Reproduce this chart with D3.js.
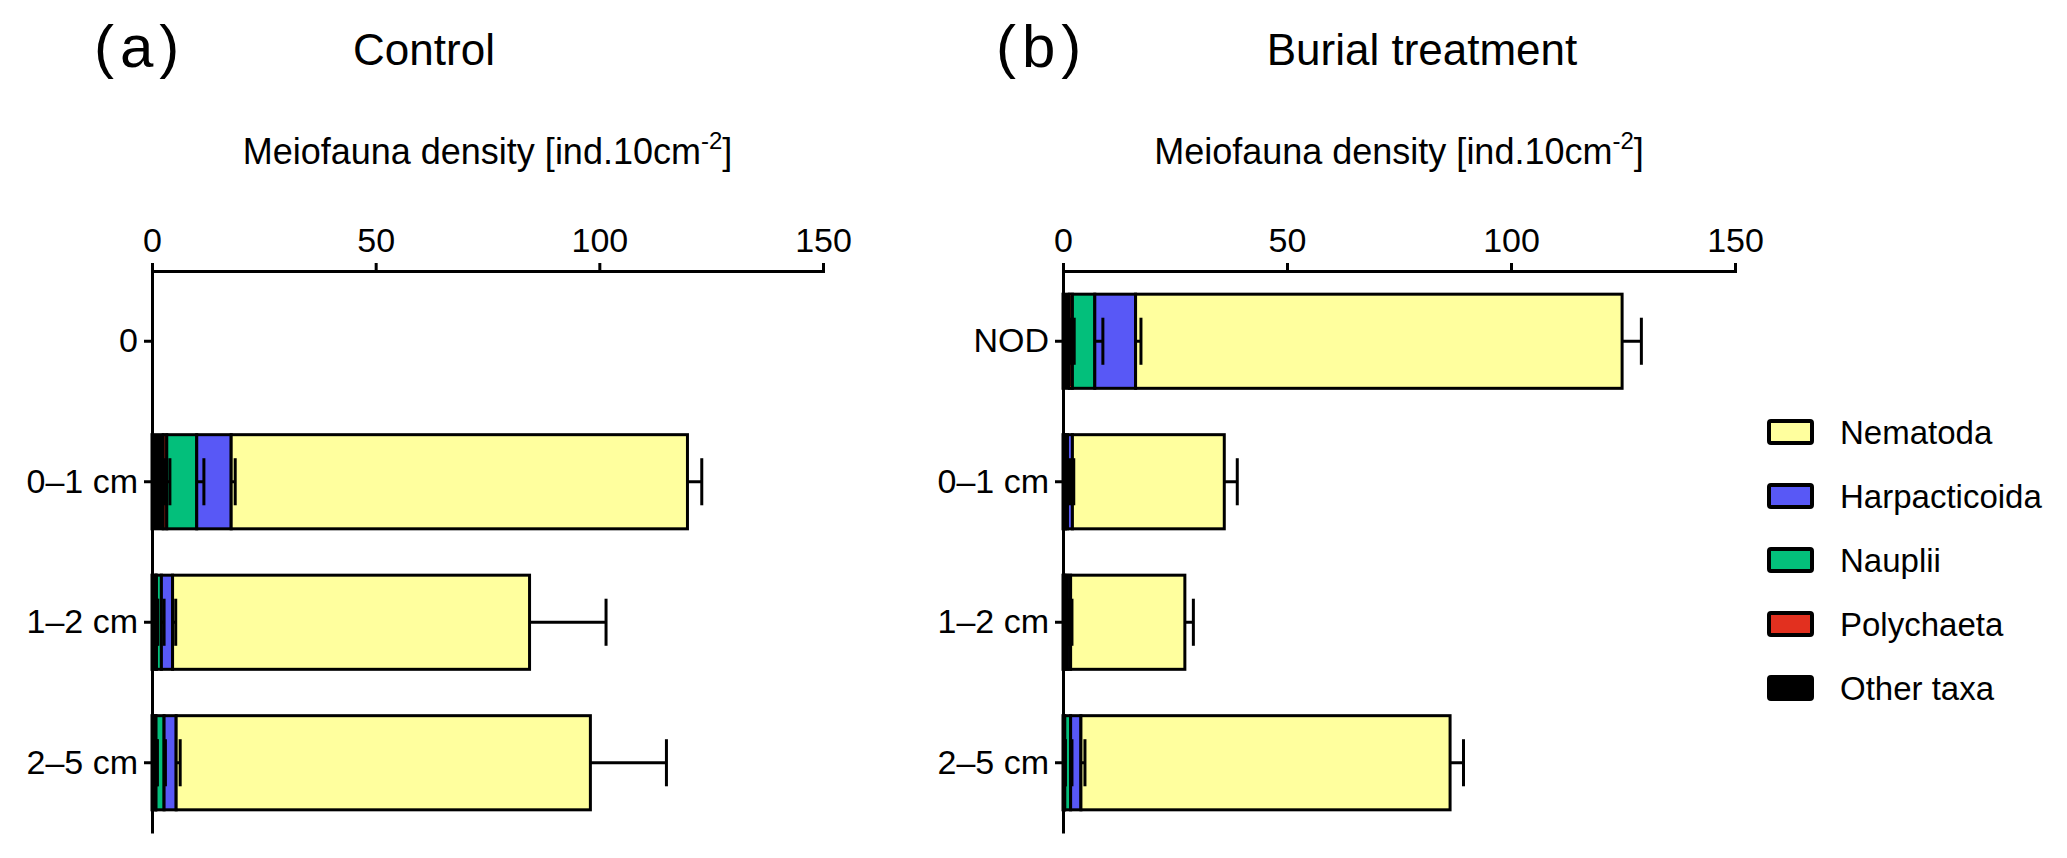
<!DOCTYPE html>
<html>
<head>
<meta charset="utf-8">
<script src="https://cdnjs.cloudflare.com/ajax/libs/d3/7.8.5/d3.min.js"></script>
<style>
  body { margin: 0; background: #fff; }
  text { font-family: "Liberation Sans", Arial, sans-serif; fill: #000; }
</style>
</head>
<body>
<div id="chart"></div>
<script>
// taxa, bottom of stack first
var taxa = ["Other taxa", "Polychaeta", "Nauplii", "Harpacticoida", "Nematoda"];
var taxaColors = ["#000000", "#e2301f", "#03bf7b", "#5858f6", "#ffff9e"];
var legendOrder = ["Nematoda", "Harpacticoida", "Nauplii", "Polychaeta", "Other taxa"];
var xTicks = [0, 50, 100, 150];

// (a) Control
var catsA = ["0", "0\u20131 cm", "1\u20132 cm", "2\u20135 cm"];
var otherA = [null, 2.5, 0.8, 0.8];
var polyA  = [null, 0.8, 0.2, 0.1];
var naupA  = [null, 6.7, 1.1, 1.8];
var harpA  = [null, 7.7, 2.5, 2.7];
var nemaA  = [null, 102.0, 79.8, 92.6];
var otherErrA = [null, 0.4, 0.3, 0.3];
var polyErrA  = [null, 0.7, 0.3, 0.3];
var naupErrA  = [null, 1.6, 0.6, 0.3];
var harpErrA  = [null, 0.9, 0.7, 0.9];
var nemaErrA  = [null, 3.2, 17.1, 17.0];

// (b) Burial treatment
var catsB = ["NOD", "0\u20131 cm", "1\u20132 cm", "2\u20135 cm"];
var otherB = [1.4, 0.4, 0.3, 0.3];
var polyB  = [0.7, 0.1, 0.1, 0.1];
var naupB  = [5.0, 0.5, 0.6, 1.3];
var harpB  = [9.1, 1.1, 0.7, 2.3];
var nemaB  = [108.6, 33.9, 25.5, 82.4];
var otherErrB = [0.3, 0.6, 0.4, 0.2];
var polyErrB  = [0.4, 0.3, 0.3, 0.1];
var naupErrB  = [1.8, 0.5, 0.3, 0.3];
var harpErrB  = [1.2, 0.3, 0.3, 0.9];
var nemaErrB  = [4.3, 2.9, 1.9, 3.0];

var w = 2067, h = 858;
var svg = d3.select("#chart").append("svg")
    .attr("width", w)
    .attr("height", h);

var color = d3.scaleOrdinal().domain(taxa).range(taxaColors);

function panel(opt) {
  var rows = opt.cats.map(function(c, i) {
    var r = { cat: c, empty: opt.vals[0][i] == null };
    taxa.forEach(function(t, k) {
      r[t] = opt.vals[k][i] || 0;
      r[t + "_err"] = opt.errs[k][i] || 0;
    });
    return r;
  });

  var x = d3.scaleLinear().domain([0, 150]).range([opt.x0, opt.x1]);
  var y = d3.scaleBand().domain(opt.cats).range([271, 833])
      .paddingInner(0.33).paddingOuter(0.165);

  var g = svg.append("g");

  var series = d3.stack().keys(taxa)(rows.filter(function(r) { return !r.empty; }));

  // bars
  g.selectAll("g.layer")
      .data(series)
    .enter().append("g")
      .attr("class", "layer")
      .attr("fill", function(d) { return color(d.key); })
    .selectAll("rect")
      .data(function(d) { return d; })
    .enter().append("rect")
      .attr("x", function(d) { return x(d[0]); })
      .attr("y", function(d) { return y(d.data.cat); })
      .attr("width", function(d) { return x(d[1]) - x(d[0]); })
      .attr("height", y.bandwidth())
      .attr("stroke", "#000")
      .attr("stroke-width", 3);

  // error bars drawn from each segment's end, to the right
  var errs = [];
  series.forEach(function(s) {
    s.forEach(function(d) {
      errs.push({ end: d[1], err: d.data[s.key + "_err"], cat: d.data.cat });
    });
  });
  var capH = y.bandwidth() * 0.5;
  var eb = g.selectAll("g.err")
      .data(errs)
    .enter().append("g")
      .attr("class", "err")
      .attr("stroke", "#000")
      .attr("stroke-width", 3);
  eb.append("line")
      .attr("x1", function(d) { return x(d.end); })
      .attr("x2", function(d) { return x(d.end + d.err); })
      .attr("y1", function(d) { return y(d.cat) + y.bandwidth() / 2; })
      .attr("y2", function(d) { return y(d.cat) + y.bandwidth() / 2; });
  eb.append("line")
      .attr("x1", function(d) { return x(d.end + d.err); })
      .attr("x2", function(d) { return x(d.end + d.err); })
      .attr("y1", function(d) { return y(d.cat) + y.bandwidth() / 2 - capH / 2; })
      .attr("y2", function(d) { return y(d.cat) + y.bandwidth() / 2 + capH / 2; });

  // x axis on top
  var xa = g.append("g")
      .attr("transform", "translate(0,271)")
      .call(d3.axisTop(x).tickValues(xTicks).tickSize(8).tickSizeOuter(8).tickPadding(11));
  xa.selectAll("text").style("font-size", "34px");

  // y axis
  var ya = g.append("g")
      .attr("transform", "translate(" + opt.x0 + ",0)")
      .call(d3.axisLeft(y).tickSize(8).tickSizeOuter(0).tickPadding(6));
  ya.selectAll("text").style("font-size", "34px");

  g.selectAll(".domain, .tick line")
      .attr("stroke", "#000")
      .attr("stroke-width", 3);

  // axis title with superscript
  var t = g.append("text")
      .attr("x", (opt.x0 + opt.x1) / 2)
      .attr("y", 164)
      .attr("text-anchor", "middle")
      .style("font-size", "36px");
  t.append("tspan").text("Meiofauna density [ind.10cm");
  t.append("tspan").attr("dy", -15).style("font-size", "24px").text("-2");
  t.append("tspan").attr("dy", 15).text("]");

  // panel letter and title
  g.append("text")
      .attr("x", opt.letterX)
      .attr("y", 67)
      .style("font-size", "60px")
      .style("letter-spacing", "6px")
      .text(opt.letter);
  g.append("text")
      .attr("x", opt.titleX)
      .attr("y", 65)
      .attr("text-anchor", "middle")
      .style("font-size", "44px")
      .text(opt.title);
}

panel({
  cats: catsA,
  vals: [otherA, polyA, naupA, harpA, nemaA],
  errs: [otherErrA, polyErrA, naupErrA, harpErrA, nemaErrA],
  x0: 152, x1: 823,
  letter: "(a)", letterX: 94,
  title: "Control", titleX: 424
});

panel({
  cats: catsB,
  vals: [otherB, polyB, naupB, harpB, nemaB],
  errs: [otherErrB, polyErrB, naupErrB, harpErrB, nemaErrB],
  x0: 1063, x1: 1735,
  letter: "(b)", letterX: 996,
  title: "Burial treatment", titleX: 1422
});

// legend
var leg = svg.append("g").selectAll("g")
    .data(legendOrder)
  .enter().append("g")
    .attr("transform", function(d, i) { return "translate(1769," + (432 + i * 64) + ")"; });
leg.append("rect")
    .attr("x", 0)
    .attr("y", -11)
    .attr("width", 43)
    .attr("height", 22)
    .attr("rx", 2)
    .attr("fill", function(d) { return color(d); })
    .attr("stroke", "#000")
    .attr("stroke-width", 4);
leg.append("text")
    .attr("x", 71)
    .attr("y", 0)
    .attr("dy", "0.35em")
    .style("font-size", "33px")
    .text(function(d) { return d; });
</script>
</body>
</html>
